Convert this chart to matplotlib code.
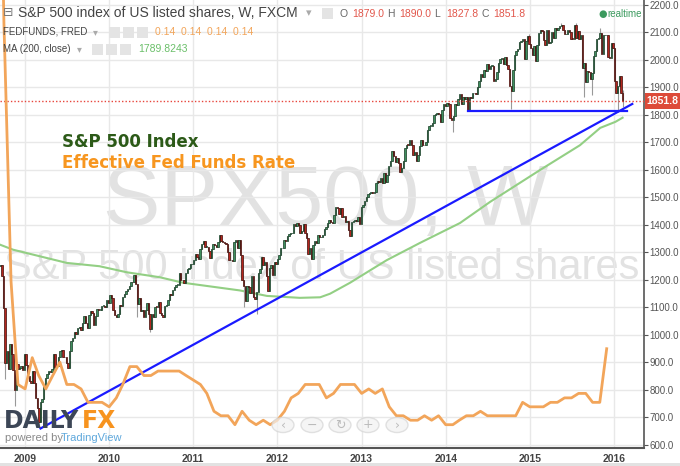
import datetime as dt
import pandas as pd
import matplotlib
matplotlib.use("Agg")
import matplotlib.pyplot as plt
import matplotlib.dates as mdates
from matplotlib.patches import Rectangle, Circle

# weekly closes SPX500 (FXCM), first bar = week of Mon 2008-09-08
first_week = "2008-09-08"
first_open = 1242.3
closes_2008 = [1251.7, 1255.1, 1213.3, 1099.2, 899.2, 940.6, 876.8, 968.8, 931.0, 873.3,
               800.0, 896.2, 876.1, 879.7, 887.9, 872.8, 931.8]
closes_2009 = [890.4, 850.1, 832.0, 825.9, 868.6, 826.8, 770.1, 735.1, 683.4, 756.6,
               768.5, 815.9, 842.5, 856.6, 869.6, 866.2, 877.5, 929.2, 882.9, 887.0,
               919.1, 940.1, 946.2, 921.2, 918.9, 896.4, 879.1, 940.4, 979.3, 987.5,
               1010.5, 1004.1, 1026.1, 1028.9, 1016.4, 1042.7, 1068.3, 1044.4, 1025.2, 1071.5,
               1087.7, 1079.6, 1036.2, 1069.3, 1093.5, 1091.4, 1091.5, 1106.0, 1106.4, 1102.5,
               1126.5, 1115.1]
closes_2010 = [1145.0, 1136.0, 1091.8, 1073.9, 1066.2, 1075.5, 1109.2, 1104.5, 1138.7, 1150.0,
               1159.9, 1166.6, 1178.1, 1194.4, 1192.1, 1217.3, 1186.7, 1110.9, 1135.7, 1087.7,
               1089.4, 1064.9, 1091.6, 1117.5, 1076.8, 1022.6, 1078.0, 1064.9, 1102.7, 1101.6,
               1121.6, 1079.3, 1071.7, 1064.6, 1104.5, 1109.6, 1125.6, 1148.7, 1146.2, 1165.2,
               1176.2, 1183.1, 1183.3, 1225.9, 1199.2, 1199.7, 1189.4, 1224.7, 1240.4, 1243.9,
               1256.8, 1257.6]
closes_2011 = [1271.5, 1293.2, 1283.4, 1276.3, 1310.9, 1329.2, 1343.0, 1319.9, 1321.2, 1304.3,
               1279.2, 1313.8, 1332.4, 1328.2, 1319.7, 1337.4, 1363.6, 1340.2, 1337.8, 1333.3,
               1331.1, 1300.2, 1271.0, 1271.5, 1268.5, 1339.7, 1343.8, 1316.1, 1345.0, 1292.3,
               1199.4, 1178.8, 1123.5, 1176.8, 1174.0, 1154.2, 1216.0, 1136.4, 1131.4, 1155.5,
               1224.6, 1238.3, 1285.1, 1253.2, 1263.9, 1215.7, 1158.7, 1244.3, 1255.2, 1219.7,
               1265.3, 1257.6]
closes_2012 = [1277.8, 1289.1, 1315.4, 1316.3, 1344.9, 1342.6, 1361.2, 1365.7, 1369.6, 1370.9,
               1404.2, 1397.1, 1408.5, 1398.1, 1370.3, 1378.5, 1403.4, 1369.1, 1353.4, 1295.2,
               1317.8, 1278.0, 1325.7, 1342.8, 1335.0, 1362.2, 1354.7, 1356.8, 1362.7, 1386.0,
               1391.0, 1405.9, 1418.2, 1411.1, 1406.6, 1437.9, 1465.8, 1460.2, 1440.7, 1460.9,
               1428.6, 1433.2, 1411.9, 1414.2, 1379.9, 1359.9, 1409.2, 1416.2, 1418.1, 1413.6,
               1430.2, 1402.4, 1466.5]
closes_2013 = [1472.1, 1486.0, 1503.0, 1513.2, 1517.9, 1519.8, 1515.6, 1518.2, 1551.2, 1560.7,
               1556.9, 1569.2, 1553.3, 1588.9, 1555.3, 1582.2, 1614.4, 1633.7, 1667.5, 1649.6,
               1630.7, 1643.4, 1626.7, 1592.4, 1606.3, 1631.9, 1680.2, 1692.1, 1691.7, 1709.7,
               1691.4, 1655.8, 1663.5, 1633.0, 1655.2, 1688.0, 1709.9, 1691.8, 1690.5, 1703.2,
               1744.5, 1759.8, 1761.6, 1770.6, 1798.2, 1804.8, 1805.8, 1805.1, 1775.3, 1818.3,
               1841.4, 1831.4]
closes_2014 = [1842.4, 1838.7, 1790.3, 1782.6, 1797.0, 1838.6, 1836.3, 1859.5, 1878.0, 1841.1,
               1866.5, 1857.6, 1865.1, 1815.7, 1864.9, 1863.4, 1881.1, 1878.5, 1877.9, 1900.5,
               1923.6, 1949.4, 1936.2, 1962.9, 1961.0, 1985.4, 1967.6, 1978.2, 1978.3, 1925.2,
               1931.6, 1955.1, 1988.4, 2003.4, 2007.7, 1985.5, 2010.4, 1982.9, 1967.9, 1906.1,
               1886.8, 1964.6, 2018.1, 2031.9, 2039.8, 2063.5, 2067.6, 2075.4, 2002.3, 2070.7,
               2088.8, 2058.2]
closes_2015 = [2044.8, 2019.4, 2051.8, 1995.0, 2055.5, 2097.0, 2110.3, 2104.5, 2071.3, 2053.4,
               2108.1, 2061.0, 2067.0, 2102.1, 2081.2, 2117.7, 2108.3, 2116.1, 2122.7, 2126.1,
               2107.4, 2092.8, 2094.1, 2110.0, 2101.5, 2076.8, 2076.6, 2126.6, 2079.7, 2103.8,
               2077.6, 2091.5, 1970.9, 1988.9, 1921.2, 1961.1, 1958.0, 1931.3, 1951.4, 2014.9,
               2033.1, 2075.2, 2079.4, 2099.2, 2023.0, 2089.2, 2090.1, 2091.7, 2012.4, 2005.6,
               2061.0, 2043.9]
closes_2016 = [1922.0, 1880.3, 1906.9, 1940.2, 1879.0, 1851.8]
last_ohlc = [1879.0, 1890.0, 1827.8, 1851.8]

# long shadows that stand out on the chart
wick_low_weeks = ["2008-10-06", "2008-11-17", "2009-03-02", "2010-05-03", "2010-06-28",
                  "2011-08-08", "2011-10-03", "2014-02-03", "2014-04-14", "2014-10-13",
                  "2015-08-24", "2015-09-28", "2016-01-18", "2016-02-08"]
wick_low_values = [839.8, 741.0, 666.8, 1065.8, 1010.9, 1101.5, 1074.8, 1737.9, 1814.4,
                   1820.7, 1867.0, 1871.9, 1812.3, 1827.8]
wick_high_weeks = ["2015-05-18", "2015-07-20", "2015-11-02", "2014-12-29", "2016-02-08"]
wick_high_values = [2134.7, 2132.8, 2116.5, 2093.5, 1890.0]

# effective fed funds rate, monthly from Sep 2008
fed_start = "2008-09-01"
fed_rate = [1.81, 0.97, 0.39, 0.16,
            0.15, 0.22, 0.18, 0.15, 0.18, 0.21, 0.16, 0.16, 0.15, 0.12, 0.12, 0.12,
            0.11, 0.13, 0.16, 0.20, 0.20, 0.18, 0.18, 0.19, 0.19, 0.19, 0.19, 0.18,
            0.17, 0.16, 0.14, 0.10, 0.09, 0.09, 0.07, 0.10, 0.08, 0.07, 0.08, 0.07,
            0.08, 0.10, 0.13, 0.14, 0.16, 0.16, 0.16, 0.13, 0.14, 0.16, 0.16, 0.16,
            0.14, 0.15, 0.14, 0.15, 0.11, 0.09, 0.09, 0.08, 0.08, 0.09, 0.08, 0.09,
            0.07, 0.07, 0.08, 0.09, 0.09, 0.10, 0.09, 0.09, 0.09, 0.09, 0.09, 0.12,
            0.11, 0.11, 0.11, 0.12, 0.12, 0.13, 0.13, 0.14, 0.14, 0.12, 0.12, 0.24]

# MA(200, close)
ma_dates = ["2008-09-15", "2008-11-10", "2009-07-01", "2009-11-20", "2010-03-18", "2010-08-08",
            "2010-11-17", "2011-07-22", "2011-11-17", "2012-04-08", "2012-07-05", "2012-08-17",
            "2012-11-12", "2013-02-07", "2013-04-20", "2013-09-12", "2014-03-04", "2014-07-13",
            "2015-02-15", "2015-08-07", "2015-11-03", "2016-01-08", "2016-02-08"]
ma_values = [1328, 1310, 1262, 1250, 1228, 1210, 1190, 1162, 1142, 1135, 1137, 1150,
             1190, 1235, 1272, 1335, 1407, 1484, 1600, 1690, 1753, 1775, 1790]

# drawn trend lines
trend_dates = ["2009-03-09", "2016-03-21"]
trend_values = [660, 1840]
support_dates = ["2014-04-07", "2016-02-29"]
support_values = [1815, 1815]

W, H = 680, 466
def fx(x):
    return x / W
def fy(y):
    return 1 - y / H

closes = (closes_2008 + closes_2009 + closes_2010 + closes_2011 + closes_2012 +
          closes_2013 + closes_2014 + closes_2015 + closes_2016)
weeks = pd.date_range(first_week, periods=len(closes), freq="7D")
opens = [first_open] + closes[:-1]
highs = [max(o, c) for o, c in zip(opens, closes)]
lows = [min(o, c) for o, c in zip(opens, closes)]
week_idx = {d.strftime("%Y-%m-%d"): i for i, d in enumerate(weeks)}
for d, v in zip(wick_low_weeks, wick_low_values):
    lows[week_idx[d]] = v
for d, v in zip(wick_high_weeks, wick_high_values):
    highs[week_idx[d]] = v

xw = mdates.date2num(weeks)
fams = ["Liberation Sans", "DejaVu Sans"]

fig = plt.figure(figsize=(W / 100, H / 100), dpi=100)
ax = fig.add_axes([0, 18 / H, 644 / W, 448 / H])
ax.set_xlim(mdates.date2num(dt.datetime(2008, 9, 14)), mdates.date2num(dt.datetime(2016, 5, 11)))
ax.set_ylim(589, 2218)

# fed funds on its own scale (twinx moves ticks to the left, so set it up first)
ax2 = ax.twinx()
ax2.set_ylim((589 - 560) / 1625, (2218 - 560) / 1625)
ax2.axis("off")
fed_dates = pd.date_range(fed_start, periods=len(fed_rate), freq="MS")
ax2.plot(mdates.date2num(fed_dates), fed_rate, color="#f2a55a", lw=2, zorder=5)

# grid + axes
years = [dt.datetime(y, 1, 1) for y in range(2009, 2017)]
ax.set_xticks(mdates.date2num(years))
ax.set_xticklabels([str(y.year) for y in years], fontsize=7.5, fontweight="bold",
                   color="#444444", family="Liberation Sans")
ax.set_yticks(range(600, 2201, 100))
ax.set_yticklabels([f"{v:.1f}" for v in range(600, 2201, 100)], fontsize=7, color="#555555",
                   family="Liberation Sans")
ax.yaxis.tick_right()
ax.tick_params(axis="y", length=3, width=0.8, color="#555555", pad=1)
ax.tick_params(axis="x", length=0, pad=4)
ax.grid(color="#e8e8e8", lw=1, zorder=0)
ax.set_axisbelow(True)
for s in ["top", "left"]:
    ax.spines[s].set_visible(False)
ax.spines["right"].set_color("#555555")
ax.spines["right"].set_linewidth(1.2)
ax.spines["bottom"].set_color("#555555")
ax.spines["bottom"].set_linewidth(1.5)

# watermarks
ax.text(fx(103), fy(203), "SPX500, W", transform=fig.transFigure, ha="left", va="center",
        fontsize=62, color="#e2e2e2", family="Liberation Sans", zorder=0)
ax.text(fx(322), fy(268), "S&P 500 index of US listed shares", transform=fig.transFigure,
        ha="center", va="center", fontsize=30, color="#e2e2e2", family="Liberation Sans", zorder=0)

# MA and trend lines
ax.plot(mdates.date2num(pd.to_datetime(ma_dates)), ma_values, color="#93cf84", lw=1.5, zorder=2)
ax.plot(mdates.date2num(pd.to_datetime(trend_dates)), trend_values, color="#1a1aff", lw=1.6, zorder=4)
ax.plot(mdates.date2num(pd.to_datetime(support_dates)), support_values, color="#1a1aff", lw=1.6, zorder=4)

# candles
up = [c >= o for o, c in zip(opens, closes)]
ax.vlines(xw, lows, highs, color="#999999", lw=0.8, zorder=3)
body_h = [max(abs(c - o), 2) for o, c in zip(opens, closes)]
ax.bar(xw, body_h, bottom=[min(o, c) for o, c in zip(opens, closes)], width=6,
       color=["#3f8f5e" if u else "#b3261e" for u in up],
       edgecolor=["#173a24" if u else "#3d0c08" for u in up], linewidth=0.5, zorder=3)

# last price
ax.axhline(last_ohlc[3], color="#e8453c", lw=1, ls=(0, (1, 1.5)), zorder=4)
fig.patches.append(Rectangle((fx(645), fy(109)), 35 / W, 16 / H, transform=fig.transFigure,
                             facecolor="#dd4b39", edgecolor="none"))
fig.text(fx(662), fy(101), "1851.8", ha="center", va="center", fontsize=7.5, color="white",
         fontweight="bold", family=fams)

# annotation
fig.text(fx(62), fy(142), "S&P 500 Index", fontsize=12, fontweight="bold", color="#2c5a18",
         family="DejaVu Sans", va="center")
fig.text(fx(62), fy(163), "Effective Fed Funds Rate", fontsize=12, fontweight="bold",
         color="#f7961f", family="DejaVu Sans", va="center")

# header
fig.text(fx(3), fy(13), "\u229f", fontsize=9, color="#777777", va="center", family="DejaVu Sans")
fig.text(fx(18), fy(13), "S&P 500 index of US listed shares, W, FXCM", fontsize=10,
         color="#444444", va="center", family=fams)
fig.text(fx(306), fy(13), "\u25be", fontsize=8, color="#aaaaaa", va="center", family="DejaVu Sans")
x = 340
for lab, val in zip("OHLC", last_ohlc):
    fig.text(fx(x), fy(14), lab, fontsize=7.5, color="#666666", va="center", family=fams)
    fig.text(fx(x + 12), fy(14), f"{val:.1f}", fontsize=7.5, color="#e2574c", va="center", family=fams)
    x += 47
fig.text(fx(598), fy(14), "\u25cf", fontsize=7, color="#3b9a5e", va="center", family="DejaVu Sans")
fig.text(fx(607), fy(14), "realtime", fontsize=7, color="#3b9a5e", va="center", family=fams)

fig.text(fx(3), fy(32), "FEDFUNDS, FRED", fontsize=7, color="#444444", va="center", family=fams)
fig.text(fx(93), fy(32), "\u25be", fontsize=7, color="#aaaaaa", va="center", family="DejaVu Sans")
fig.text(fx(155), fy(32), "  ".join(["0.14"] * 4), fontsize=7.5, color="#f2a55a", va="center", family=fams)
fig.text(fx(3), fy(49), "MA (200, close)", fontsize=7, color="#444444", va="center", family=fams)
fig.text(fx(77), fy(49), "\u25be", fontsize=7, color="#aaaaaa", va="center", family="DejaVu Sans")
fig.text(fx(138), fy(49), "1789.8243", fontsize=7.5, color="#6abf69", va="center", family=fams)

for bx, by in [(322, 8), (109, 27), (123, 27), (137, 27), (92, 44), (106, 44), (120, 44)]:
    fig.patches.append(Rectangle((fx(bx), fy(by + 11)), 11 / W, 11 / H, transform=fig.transFigure,
                                 facecolor="#e4e4e4", edgecolor="none"))

# logo
fig.text(fx(4), fy(421), "DAILY", fontsize=17, fontweight="bold", color="#3c4656",
         va="center", family="DejaVu Sans")
fig.text(fx(82), fy(421), "FX", fontsize=17, fontweight="bold", color="#f7931e",
         va="center", family="DejaVu Sans")
fig.text(fx(5), fy(438), "powered by", fontsize=8, color="#8a8a8a", va="center", family=fams)
fig.text(fx(61), fy(438), "TradingView", fontsize=8, color="#5fa8dc", va="center", family=fams)

# navigation buttons
for cx, sym in zip([283, 312, 340, 368, 397], ["\u2039", "\u2212", "\u21bb", "+", "\u203a"]):
    fig.patches.append(Circle((fx(cx), fy(425)), 11 / W, transform=fig.transFigure,
                              facecolor="#f2f2f2", edgecolor="#d5d5d5", lw=1, alpha=0.7))
    fig.text(fx(cx), fy(425), sym, fontsize=9, color="#bbbbbb", ha="center", va="center",
             family="DejaVu Sans")

# bottom strip
fig.patches.append(Rectangle((0, 0), 1, 3 / H, transform=fig.transFigure,
                             facecolor="#e2e2e2", edgecolor="none"))

fig.savefig("out.png", dpi=100)
